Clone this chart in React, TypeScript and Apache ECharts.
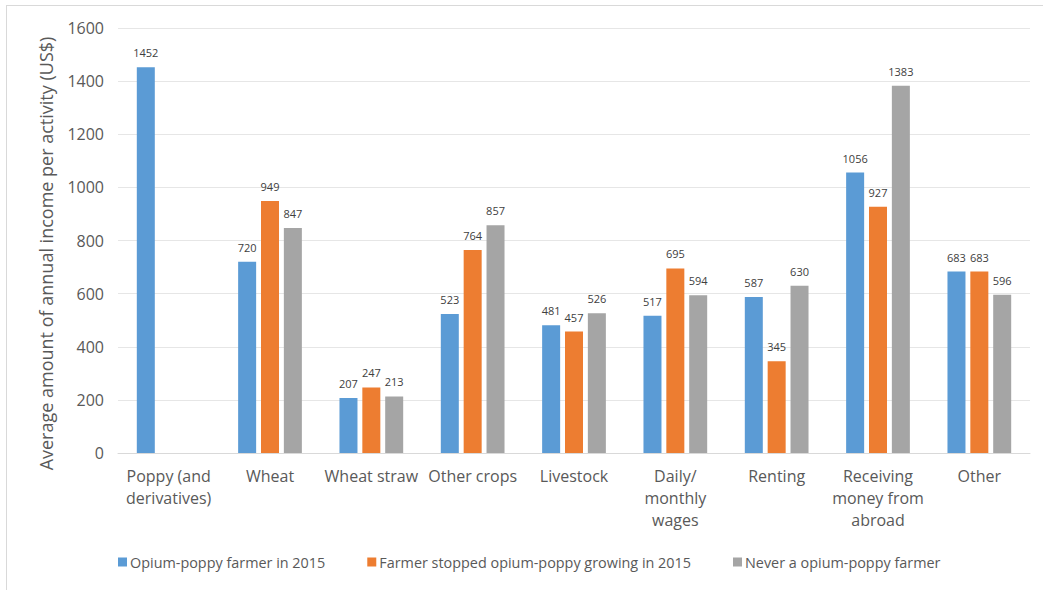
import React, { useEffect, useRef } from "react";
import * as echarts from "echarts";

const categories = [
  "Poppy (and\nderivatives)",
  "Wheat",
  "Wheat straw",
  "Other crops",
  "Livestock",
  "Daily/\nmonthly\nwages",
  "Renting",
  "Receiving\nmoney from\nabroad",
  "Other",
];
const seriesNames = [
  "Opium-poppy farmer in 2015",
  "Farmer stopped opium-poppy growing in 2015",
  "Never a opium-poppy farmer",
];
const opiumFarmer2015 = [1452, 720, 207, 523, 481, 517, 587, 1056, 683];
const stoppedIn2015 = [null, 949, 247, 764, 457, 695, 345, 927, 683];
const neverFarmer = [null, 847, 213, 857, 526, 594, 630, 1383, 596];
const colors = ["#5B9BD5", "#ED7D31", "#A5A5A5"];
const yTicks = { min: 0, max: 1600, interval: 200 };

export default function App() {
  const ref = useRef<HTMLDivElement>(null);
  useEffect(() => {
    if (!ref.current) return;
    const chart = echarts.init(ref.current, null, { renderer: "svg" });
    const font = "'Open Sans', sans-serif";
    const label = {
      show: true,
      position: "top",
      distance: 9,
      fontSize: 11,
      color: "#404040",
      fontFamily: font,
    };
    const mk = (name: string, data: (number | null)[], i: number) => ({
      name,
      type: "bar",
      data,
      barWidth: 18,
      barGap: "27%",
      itemStyle: { color: colors[i] },
      label,
    });
    chart.setOption({
      animation: false,
      textStyle: { fontFamily: font },
      grid: { left: 118, right: 13, top: 28, bottom: 137, containLabel: false },
      legend: {
        left: 113,
        top: 550,
        itemWidth: 9,
        itemHeight: 9,
        itemGap: 42,
        icon: "rect",
        textStyle: { fontSize: 14.4, color: "#595959", fontFamily: font, padding: [0, 0, 0, -2] },
        data: seriesNames,
      },
      xAxis: {
        type: "category",
        data: categories,
        axisLine: { lineStyle: { color: "#d9d9d9" } },
        axisTick: { show: false },
        axisLabel: {
          interval: 0,
          fontSize: 16,
          color: "#595959",
          fontFamily: font,
          lineHeight: 22,
          margin: 12,
        },
      },
      yAxis: {
        type: "value",
        min: yTicks.min,
        max: yTicks.max,
        interval: yTicks.interval,
        name: "Average amount of annual income per activity (US$)",
        nameLocation: "middle",
        nameGap: 63,
        nameTextStyle: { fontSize: 18, color: "#595959", fontFamily: font, padding: [0, 26, 0, 0] },
        axisLine: { show: false },
        axisTick: { show: false },
        splitLine: { lineStyle: { color: "#e6e6e6" } },
        axisLabel: {
          fontSize: 16,
          color: "#595959",
          fontFamily: font,
          margin: 14,
          formatter: (v: number) => String(v),
        },
      },
      graphic: [
        { type: "line", shape: { x1: 6, y1: 5.5, x2: 1043, y2: 5.5 }, style: { stroke: "#d9d9d9", lineWidth: 1 } },
        { type: "line", shape: { x1: 6.5, y1: 5, x2: 6.5, y2: 590 }, style: { stroke: "#d9d9d9", lineWidth: 1 } },
      ],
      series: [
        mk(seriesNames[0], opiumFarmer2015, 0),
        mk(seriesNames[1], stoppedIn2015, 1),
        mk(seriesNames[2], neverFarmer, 2),
      ],
    });
    return () => chart.dispose();
  }, []);
  return (
    <div
      ref={ref}
      style={{ position: "absolute", left: 0, top: 0, width: 1043, height: 590, background: "#fff" }}
    />
  );
}
